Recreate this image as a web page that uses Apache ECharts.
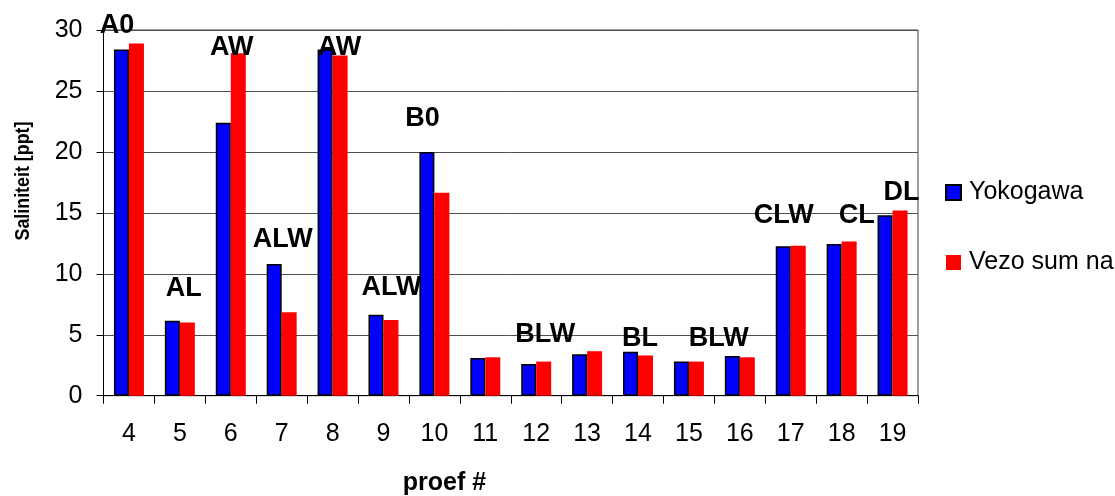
<!DOCTYPE html>
<html>
<head>
<meta charset="utf-8">
<script src="https://cdn.jsdelivr.net/npm/echarts@6/dist/echarts.min.js"></script>
<style>
  html, body { margin: 0; padding: 0; background: #fff; }
  #chart { width: 1115px; height: 496px; }
</style>
</head>
<body>
<div id="chart"></div>
<script>
// Sample numbers (proef #)
const categories = ['4', '5', '6', '7', '8', '9', '10', '11', '12', '13', '14', '15', '16', '17', '18', '19'];

// Salinity [ppt] per instrument
const yokogawa = [28.4, 6.15, 22.4, 10.8, 28.4, 6.65, 20.0, 3.1, 2.6, 3.4, 3.6, 2.8, 3.25, 12.25, 12.45, 14.8];
const vezo     = [28.9, 6.0, 28.1, 6.85, 27.9, 6.2, 16.65, 3.15, 2.8, 3.65, 3.3, 2.8, 3.15, 12.3, 12.65, 15.2];

// Station labels: sample, text, height on the salinity scale
const labelCats   = ['4', '5', '6', '7', '8', '9', '10', '12', '14', '16', '17', '18', '19'];
const labelTexts  = ['A0', 'AL', 'AW', 'ALW', 'AW', 'ALW', 'B0', 'BLW', 'BL', 'BLW', 'CLW', 'CL', 'DL'];
const labelLevels = [30.4, 8.8, 28.6, 12.8, 28.6, 8.85, 22.7, 5.0, 4.7, 4.7, 14.8, 14.8, 16.7];

// Y axis ticks
const yTicks = [0, 5, 10, 15, 20, 25, 30];

// horizontal nudge (px) of each station label
const labelShift = [-12, 4, 1, 1, 7, 8, -12, 9, 2, -21, -7, 15, 9];

const FONT = '"Liberation Sans", Arial, sans-serif';

const chart = echarts.init(document.getElementById('chart'), null, { renderer: 'canvas' });

chart.setOption({
  animation: false,
  backgroundColor: '#ffffff',
  grid: {
    left: 103.5, right: 197, top: 30, bottom: 100.3,
    show: true, borderColor: '#404040', borderWidth: 1
  },
  legend: {
    orient: 'vertical',
    left: 940, top: 175,
    itemWidth: 15, itemHeight: 15,
    itemGap: 45,
    textStyle: { fontFamily: FONT, fontSize: 25, color: '#000', padding: [0, 0, 0, 3] },
    data: [
      { name: 'Yokogawa', icon: 'rect' },
      { name: 'Vezo sum na', icon: 'rect' }
    ]
  },
  xAxis: {
    type: 'category',
    data: categories,
    axisLine: { lineStyle: { color: '#000', width: 1 } },
    axisTick: { show: true, length: 8, lineStyle: { color: '#000' } },
    axisLabel: { fontFamily: FONT, fontSize: 25, color: '#000', margin: 26 },
    splitLine: { show: false }
  },
  yAxis: {
    type: 'value',
    min: yTicks[0], max: yTicks[yTicks.length - 1], interval: yTicks[1] - yTicks[0],
    axisLine: { show: true, lineStyle: { color: '#000', width: 1 } },
    axisTick: { show: true, length: 7, lineStyle: { color: '#000' } },
    axisLabel: { fontFamily: FONT, fontSize: 25, color: '#000', margin: 21 },
    splitLine: { show: true, lineStyle: { color: '#505050', width: 1 } }
  },
  graphic: [
    {
      type: 'text', x: 23, y: 181, rotation: Math.PI / 2, scaleX: 0.85,
      style: {
        text: 'Saliniteit [ppt]', fontFamily: FONT, fontSize: 21, fontWeight: 'bold',
        fill: '#000', textAlign: 'center', textVerticalAlign: 'middle'
      }
    },
    {
      type: 'text', x: 444.5, y: 483,
      style: {
        text: 'proef #', fontFamily: FONT, fontSize: 25, fontWeight: 'bold',
        fill: '#000', textAlign: 'center', textVerticalAlign: 'middle'
      }
    }
  ],
  series: [
    {
      name: 'Yokogawa',
      type: 'bar',
      data: yokogawa,
      barWidth: 15,
      barGap: '0%',
      itemStyle: { color: '#0000ff', borderColor: '#000', borderWidth: 1.5 }
    },
    {
      name: 'Vezo sum na',
      type: 'bar',
      data: vezo,
      barWidth: 15,
      barGap: '0%',
      itemStyle: { color: '#ff0000', borderWidth: 0 }
    },
    {
      name: 'stations',
      type: 'scatter',
      symbolSize: 0,
      clip: false,
      silent: true,
      itemStyle: { opacity: 1 },
      data: labelCats.map((c, i) => ({
        value: [c, labelLevels[i]],
        label: { offset: [labelShift[i], 0] }
      })),
      label: {
        show: true,
        position: 'inside',
        formatter: p => labelTexts[p.dataIndex],
        fontFamily: FONT, fontSize: 27, fontWeight: 'bold', color: '#000'
      },
      z: 5
    }
  ]
});
</script>
</body>
</html>
